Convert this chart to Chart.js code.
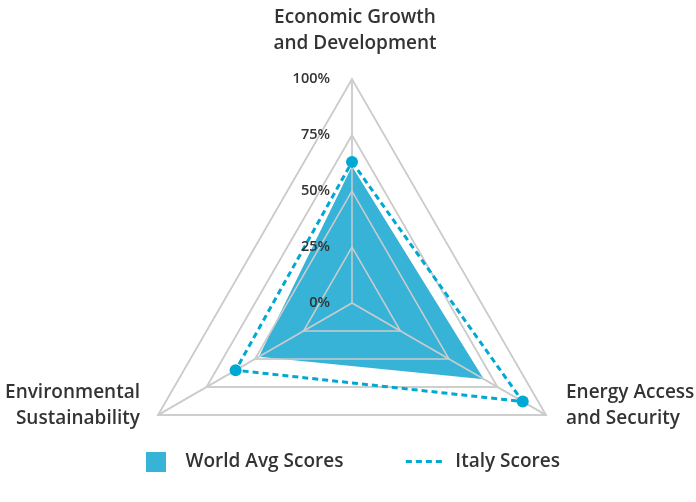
<!DOCTYPE html>
<html><head><meta charset="utf-8">
<script src="https://cdn.jsdelivr.net/npm/chart.js@4"></script>
<style>html,body{margin:0;padding:0;background:#fff;overflow:hidden}#wrap{width:696px;height:502px}</style>
</head><body><div id="wrap"><canvas id="c" width="696" height="502"></canvas></div>
<script>
const categories = [['Economic Growth','and Development'],['Energy Access','and Security'],['Environmental','Sustainability']];
const seriesNames = ['World Avg Scores','Italy Scores'];
const worldAvgScores = [61, 68, 48];
const italyScores = [63, 88, 60];
const tickValues = [0, 25, 50, 75, 100];
const tickLabels = ['0%', '25%', '50%', '75%', '100%'];

const FONT = "'Open Sans', sans-serif";
const TEXT = '#333333';
const FILL = '#37b3d7';
const LINE = '#00a8d4';
const GRID = '#cccccc';

const square = document.createElement('canvas');
square.width = 20; square.height = 20;
const sctx = square.getContext('2d');
sctx.fillStyle = FILL; sctx.fillRect(0, 0, 20, 20);

const gridOverFill = {
  id: 'gridOverFill',
  afterDatasetDraw(chart, args) {
    if (args.index === 0) chart.scales.r.drawGrid();
  }
};

const radarText = {
  id: 'radarText',
  afterDatasetsDraw(chart) {
    const s = chart.scales.r;
    const ctx = chart.ctx;
    ctx.save();
    ctx.fillStyle = TEXT;
    ctx.font = `600 14.5px ${FONT}`;
    ctx.textAlign = 'right';
    ctx.textBaseline = 'middle';
    tickValues.forEach((v, i) => {
      const p = s.getPointPositionForValue(0, v);
      ctx.fillText(tickLabels[i], p.x - 22, p.y);
    });
    ctx.font = `600 19px ${FONT}`;
    const lh = 26;
    categories.forEach((lines, i) => {
      const p = s.getPointPosition(i, s.drawingArea);
      const dx = p.x - s.xCenter;
      let x, y0, align;
      if (Math.abs(dx) < 1) { align = 'center'; x = p.x + 3; y0 = p.y - 22 - lines.length * lh; }
      else if (dx > 0) { align = 'left'; x = p.x + 20; y0 = p.y - 9 - lines.length * lh / 2; }
      else { align = 'right'; x = p.x - 18; y0 = p.y - 9 - lines.length * lh / 2; }
      ctx.textAlign = align;
      lines.forEach((t, j) => ctx.fillText(t, x, y0 + lh / 2 + j * lh));
    });
    ctx.restore();
  }
};

new Chart(document.getElementById('c'), {
  type: 'radar',
  data: {
    labels: categories,
    datasets: [
      { label: seriesNames[0], data: worldAvgScores, fill: true, backgroundColor: FILL, borderWidth: 0,
        pointRadius: 0, pointHoverRadius: 0, order: 1 },
      { label: seriesNames[1], data: italyScores, fill: false, borderColor: LINE, borderWidth: 3,
        borderDash: [6, 4], pointRadius: 6, pointBackgroundColor: LINE, pointBorderWidth: 0, order: 0 }
    ]
  },
  options: {
    responsive: false,
    animation: false,
    layout: { padding: { bottom: 21 } },
    scales: {
      r: {
        min: 0, max: 100,
        ticks: { stepSize: 25, display: false },
        pointLabels: { display: false },
        grid: { color: GRID, lineWidth: 1.5 },
        angleLines: { color: GRID, lineWidth: 1.5 },
        afterFit(scale) { scale.xCenter = 352; scale.yCenter = 303; scale.drawingArea = 224; }
      }
    },
    plugins: {
      tooltip: { enabled: false },
      legend: {
        position: 'bottom',
        labels: {
          usePointStyle: true, pointStyleWidth: 40,
          font: { family: FONT, size: 19, weight: '600' }, color: TEXT, padding: 10,
          generateLabels(chart) {
            return chart.data.datasets.map((d, i) => ({
              text: d.label + (i === 0 ? '\u2003\u2003\u2002 ' : ''),
              fillStyle: i === 0 ? FILL : 'rgba(0,0,0,0)',
              strokeStyle: i === 0 ? FILL : LINE,
              lineWidth: i === 0 ? 0 : 3,
              lineDash: i === 0 ? [] : [6, 4],
              pointStyle: i === 0 ? square : 'line',
              hidden: false, datasetIndex: i, fontColor: TEXT
            }));
          }
        }
      }
    }
  },
  plugins: [gridOverFill, radarText]
});
</script></body></html>
